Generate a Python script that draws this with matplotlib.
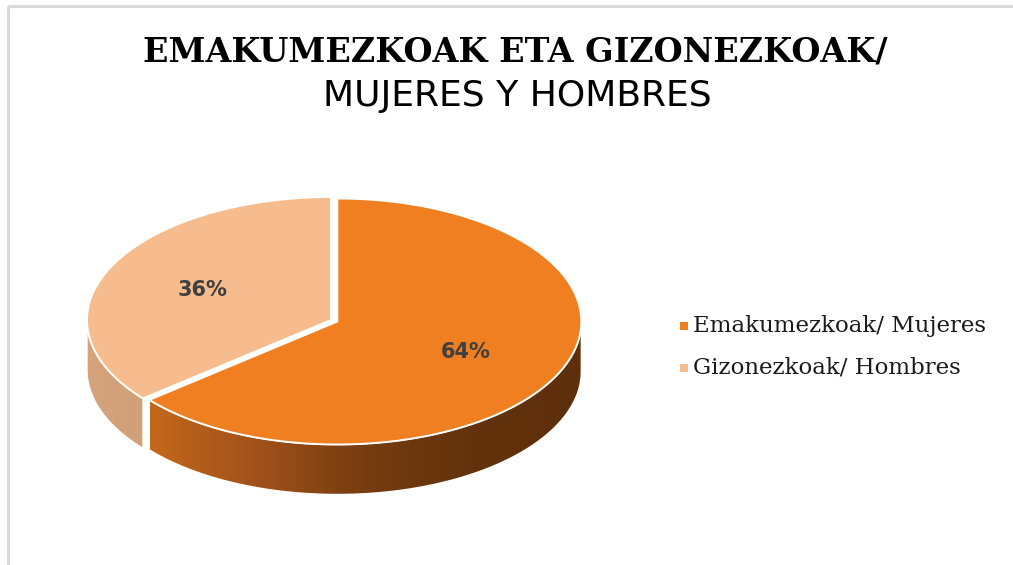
import numpy as np
import matplotlib.pyplot as plt
from matplotlib.patches import Polygon, Rectangle
from matplotlib.colors import LinearSegmentedColormap

# ── 数据 ──
labels = ["Emakumezkoak/ Mujeres", "Gizonezkoak/ Hombres"]
shares = [64, 36]
top_colors = ["#F07F22", "#F6BC8D"]
title_line1 = "EMAKUMEZKOAK ETA GIZONEZKOAK/"
title_line2 = "MUJERES Y HOMBRES"

# ── 布局 (像素坐标) ──
W, H = 1013, 565
CX, CY = 331, 320        # 椭圆中心
RX, RY = 244, 123        # 椭圆半轴
DEPTH = 50               # 饼的厚度
EXPLODE = [7, 0]         # 橙色块稍微拉开
LABEL_R = 0.58


def rim(theta, dx=0, dy=0, drop=0):
    """theta: 从 12 点钟方向顺时针的角度 (度)"""
    t = np.radians(theta)
    return np.column_stack([CX + dx + RX * np.sin(t),
                            CY + dy - RY * np.cos(t) + drop])


fig = plt.figure(figsize=(W / 100, H / 100), dpi=100)
ax = fig.add_axes([0, 0, 1, 1])
ax.set_xlim(0, W)
ax.set_ylim(H, 0)
ax.axis("off")

# 外框 (只有上边和左边可见)
ax.plot([8, W], [6, 6], color="#D9D9D9", lw=2.2, solid_capstyle="butt")
ax.plot([8, 8], [6, H], color="#D9D9D9", lw=2.2, solid_capstyle="butt")

total = sum(shares)
starts = np.cumsum([0] + shares[:-1]) / total * 360
ends = np.cumsum(shares) / total * 360

side_cmaps = [
    LinearSegmentedColormap.from_list("s0", ["#C4681B", "#A0511A", "#763C10", "#63320C", "#5E2F0B"]),
    LinearSegmentedColormap.from_list("s1", ["#D6A47C", "#D2A078"]),
]

# ── 侧面 (只画前半圈 90°~270°) ──
for i in range(len(shares)):
    a0, a1 = max(starts[i], 90), min(ends[i], 270)
    if a1 <= a0:
        continue
    mid = np.radians((starts[i] + ends[i]) / 2)
    dx = EXPLODE[i] * np.sin(mid)
    dy = -EXPLODE[i] * np.cos(mid) * RY / RX
    th = np.linspace(a0, a1, 120)
    top = rim(th, dx, dy)
    bot = rim(th[::-1], dx, dy, DEPTH)
    verts = np.vstack([top, bot])
    poly = Polygon(verts, closed=True, facecolor="none", edgecolor="none")
    ax.add_patch(poly)
    x0, x1 = verts[:, 0].min(), verts[:, 0].max()
    y0, y1 = verts[:, 1].min(), verts[:, 1].max()
    grad = np.linspace(0, 1, 256).reshape(1, -1)
    im = ax.imshow(grad, cmap=side_cmaps[i], aspect="auto",
                   extent=[x0, x1, y1, y0], interpolation="bilinear", zorder=2)
    im.set_clip_path(poly)
    ax.add_patch(Polygon(verts, closed=True, facecolor="none",
                         edgecolor="white", lw=1.0, zorder=3))

# ── 顶面 ──
for i in range(len(shares)):
    mid = np.radians((starts[i] + ends[i]) / 2)
    dx = EXPLODE[i] * np.sin(mid)
    dy = -EXPLODE[i] * np.cos(mid) * RY / RX
    th = np.linspace(starts[i], ends[i], 200)
    verts = np.vstack([[CX + dx, CY + dy], rim(th, dx, dy)])
    ax.add_patch(Polygon(verts, closed=True, facecolor=top_colors[i],
                         edgecolor="white", lw=1.4, joinstyle="miter", zorder=4))

    # 百分比标签
    lx = CX + dx + LABEL_R * RX * np.sin(mid)
    ly = CY + dy - LABEL_R * RY * np.cos(mid)
    ax.text(lx, ly, f"{shares[i]}%", ha="center", va="center",
            fontsize=15, fontweight="bold", color="#404040",
            family="DejaVu Sans", zorder=5)

# ── 标题 ──
ax.text(515, 52, title_line1, ha="center", va="center", fontsize=24,
        fontweight="bold", family="DejaVu Serif", color="black")
ax.text(517, 96, title_line2, ha="center", va="center", fontsize=26,
        family="DejaVu Sans", color="black")

# ── 图例 ──
for i, lab in enumerate(labels):
    ly = 326 + i * 42
    ax.add_patch(Rectangle((680, ly - 4), 8, 8, facecolor=top_colors[i],
                           edgecolor="none"))
    ax.text(693, ly, lab, ha="left", va="center", fontsize=16.5,
            family="DejaVu Serif", color="#1A1A1A")

fig.savefig("out.png", dpi=100)
